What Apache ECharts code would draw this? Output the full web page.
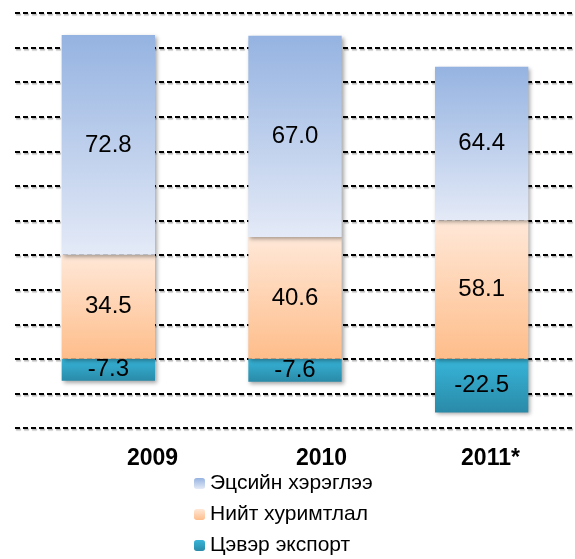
<!DOCTYPE html>
<html>
<head>
<meta charset="utf-8">
<script src="https://cdn.jsdelivr.net/npm/echarts@6/dist/echarts.min.js"></script>
<style>
html,body{margin:0;padding:0;background:#fff;}
#chart{width:575px;height:559px;}
</style>
</head>
<body>
<div id="chart"></div>
<script>
var categories = ['2009', '2010', '2011*'];
var seriesNames = ['Эцсийн хэрэглээ', 'Нийт хуримтлал', 'Цэвэр экспорт'];
var consumption = [72.8, 67.0, 64.4];
var accumulation = [34.5, 40.6, 58.1];
var netExport = [-7.3, -7.6, -22.5];
var yTicks = [-20, -10, 0, 10, 20, 30, 40, 50, 60, 70, 80, 90, 100];

// 100% stacked: share of the sum of absolute values
function share(arr, i) {
  var tot = Math.abs(consumption[i]) + Math.abs(accumulation[i]) + Math.abs(netExport[i]);
  return { value: arr[i] / tot * 100, raw: arr[i] };
}
function build(arr) { return arr.map(function (v, i) { return share(arr, i); }); }

function grad(top, bottom) {
  return new echarts.graphic.LinearGradient(0, 0, 0, 1, [
    { offset: 0, color: top }, { offset: 1, color: bottom }
  ]);
}
var FONT = 'Liberation Sans, Arial, sans-serif';
var labelCfg = {
  show: true, position: 'inside', color: '#000', fontSize: 24, fontFamily: FONT,
  formatter: function (p) { return p.data.raw.toFixed(1); }
};
var shadow = { shadowBlur: 4, shadowOffsetX: 2, shadowOffsetY: 2, shadowColor: 'rgba(0,0,0,0.35)' };

var chart = echarts.init(document.getElementById('chart'), null, { renderer: 'canvas' });
chart.setOption({
  animation: false,
  backgroundColor: '#fff',
  grid: [
    { left: 15, right: 0, top: 13, height: 415 },
    { left: 68, width: 525, top: 13, height: 415 }
  ],
  xAxis: [
    { type: 'category', data: categories, gridIndex: 0,
      axisLine: { show: false }, axisTick: { show: false }, axisLabel: { show: false } },
    { type: 'category', data: categories, gridIndex: 1,
      axisLine: { show: false }, axisTick: { show: false },
      axisLabel: { show: true, margin: 19, color: '#000', fontSize: 23, fontWeight: 'bold', fontFamily: FONT } }
  ],
  yAxis: [
    { type: 'value', gridIndex: 0, min: yTicks[0], max: yTicks[yTicks.length - 1], interval: 10,
      axisLabel: { show: false }, axisLine: { show: false }, axisTick: { show: false },
      splitLine: { show: true, lineStyle: { color: '#000', width: 2, type: [5, 3],
        shadowColor: 'rgba(0,0,0,0.3)', shadowOffsetX: 1, shadowOffsetY: 1.5, shadowBlur: 1 } } },
    { type: 'value', gridIndex: 1, min: yTicks[0], max: yTicks[yTicks.length - 1], interval: 10, show: false,
      splitLine: { show: false } }
  ],
  legend: {
    orient: 'vertical', left: 194, top: 473, padding: 0, height: 90, itemWidth: 11, itemHeight: 11, itemGap: 10,
    data: seriesNames,
    textStyle: { color: '#000', fontSize: 21, fontFamily: FONT }
  },
  series: [
    { name: seriesNames[2], type: 'bar', stack: 'a', barWidth: '50%', xAxisIndex: 0, yAxisIndex: 0,
      data: build(netExport), label: labelCfg,
      itemStyle: Object.assign({ color: grad('#37B5D9', '#2A8AA8') }, shadow) },
    { name: seriesNames[1], type: 'bar', stack: 'a', barWidth: '50%', xAxisIndex: 0, yAxisIndex: 0,
      data: build(accumulation), label: labelCfg,
      itemStyle: Object.assign({ color: grad('#FFE8D8', '#FEBD8A') }, shadow) },
    { name: seriesNames[0], type: 'bar', stack: 'a', barWidth: '50%', xAxisIndex: 0, yAxisIndex: 0,
      data: build(consumption), label: labelCfg,
      itemStyle: Object.assign({ color: grad('#95B3E1', '#E4EAF7') }, shadow) }
  ]
});
</script>
</body>
</html>
